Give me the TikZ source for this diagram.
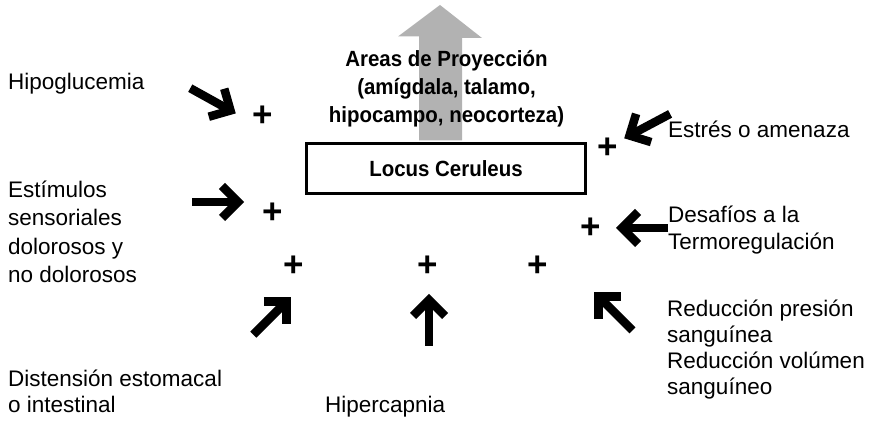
\documentclass[tikz,border=0pt]{standalone}
\usepackage{fontspec}
\usetikzlibrary{calc}
\setmainfont{Liberation Sans}
\newfontfamily\condb[FakeStretch=0.93]{Liberation Sans}
\begin{document}
\begin{tikzpicture}[x=1pt,y=1pt,
  lbl/.style={anchor=base west, inner sep=0pt, align=left, font=\fontsize{22.5}{27}\selectfont},
  boldlbl/.style={inner sep=0pt, align=center, font=\condb\bfseries\fontsize{22}{28}\selectfont},
  plus/.style={inner sep=0pt, font=\bfseries\fontsize{35}{35}\selectfont},
  pics/bigarr/.style={code={
    \draw[line width=8.5pt, line cap=butt] (-#1,0) -- (0,0);
    \draw[line width=8.5pt, line cap=butt, miter limit=10] (-16,16) -- (0,0) -- (-16,-16);
  }},
  pics/bigarr/.default=46
]
\useasboundingbox (0,0) rectangle (882,422);

% Locus Ceruleus box
\node[draw, line width=3pt, minimum width=279pt, minimum height=50pt, inner sep=0pt,
      font=\condb\bfseries\fontsize{22}{26}\selectfont] (lc) at (446,253.5) {Locus Ceruleus};

% gray projection arrow
\fill[black!30] ($(lc.north)+(-27,1.5)$) -- ++(0,104) -- ++(-21,0) -- (440,417) -- (482,384)
  -- (462,384) -- ($(lc.north)+(16,1.5)$) -- cycle;

\node[boldlbl, anchor=base] (proj) at (446.5,299) {Areas de Proyección\\(amígdala, talamo,\\hipocampo, neocorteza)};

% labels (multi-line nodes: base = last line)
\node[lbl] (hipo) at (8,332) {Hipoglucemia};
\node[lbl, font=\fontsize{22.5}{28.5}\selectfont] (estim) at (8,139) {Estímulos\\sensoriales\\dolorosos y\\no dolorosos};
\node[lbl] (estres) at (668,284) {Estrés o amenaza};
\node[lbl] (desaf) at (668,172) {Desafíos a la\\Termoregulación};
\node[lbl, font=\fontsize{22.5}{26}\selectfont] (reduc) at (667,27) {Reducción presión\\sanguínea\\Reducción volúmen\\sanguíneo};
\node[lbl, font=\fontsize{22.5}{26}\selectfont] (dist) at (8,9) {Distensión estomacal\\o intestinal};
\node[lbl] (hiper) at (325,9) {Hipercapnia};

% plus signs
\node[plus] (p1) at (263,306) {+};
\node[plus] (p2) at (273,209) {+};
\node[plus] (p3) at (608,274) {+};
\node[plus] (p4) at (591,194) {+};
\node[plus] (p5) at (294,156) {+};
\node[plus] (p6) at (428,156) {+};
\node[plus] (p7) at (538,156) {+};

% thick black arrows
\pic[rotate=-29] at (230.5,311.5) {bigarr=46};
\pic[rotate=0] at (238,220) {bigarr=46};
\pic[rotate=208] at (629.5,286.5) {bigarr=46};
\pic[rotate=180] at (622,194) {bigarr=46};
\pic[rotate=45] at (286.5,120.5) {bigarr=47};
\pic[rotate=90] at (429,122) {bigarr=46};
\pic[rotate=135] at (598.5,125.5) {bigarr=48};
\end{tikzpicture}
\end{document}
